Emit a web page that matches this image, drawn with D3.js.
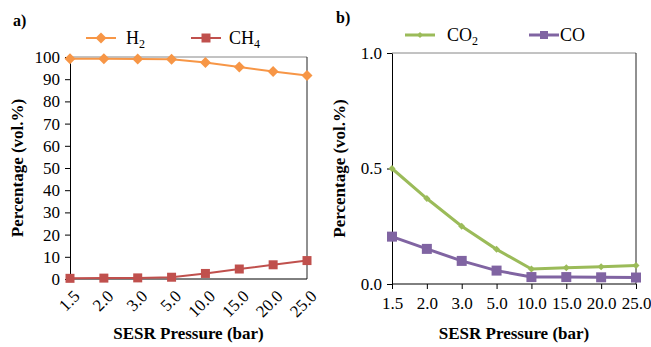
<!DOCTYPE html>
<html><head><meta charset="utf-8">
<script src="https://cdn.jsdelivr.net/npm/d3@7"></script>
<style>body{margin:0;background:#fff}</style>
</head><body><svg id="c" width="651" height="347" style="font-family:'Liberation Serif','Times New Roman',serif"></svg>
<script>
const categories = ["1.5","2.0","3.0","5.0","10.0","15.0","20.0","25.0"];
const h2 = [99.2, 99.2, 99.1, 99.0, 97.5, 95.5, 93.5, 91.7];
const ch4 = [0.3, 0.4, 0.5, 0.8, 2.5, 4.5, 6.4, 8.3];
const co2 = [0.50, 0.37, 0.25, 0.15, 0.065, 0.07, 0.075, 0.08];
const co = [0.205, 0.152, 0.10, 0.058, 0.03, 0.03, 0.029, 0.028];
const yTicksA = [0,10,20,30,40,50,60,70,80,90,100];
const yTicksB = [0, 0.5, 1.0];

const FONT = "'Liberation Serif','Times New Roman',serif";
const svg = d3.select("#c");
const col = {h2:"#F79646", ch4:"#C0504D", co2:"#9BBB59", co:"#8064A2"};

function marker(kind, s){
  // diamond = rotated square
  if(kind==="diamond") return `M0,${-s}L${s},0L0,${s}L${-s},0Z`;
  return `M${-s},${-s}H${s}V${s}H${-s}Z`;
}

function panel(o){
  const g = svg.append("g");
  const x = d3.scalePoint().domain(categories).range([o.x0,o.x1]);
  const y = d3.scaleLinear().domain(o.dom).range([o.y1,o.y0]);
  g.append("line").attr("x1",o.x0).attr("x2",o.x1).attr("y1",o.y0).attr("y2",o.y0).attr("stroke","#868686").attr("stroke-width",1);
  g.append("line").attr("x1",o.x1).attr("x2",o.x1).attr("y1",o.y0).attr("y2",o.y1).attr("stroke","#222").attr("stroke-width",1);
  const ya = g.append("g").attr("transform",`translate(${o.x0},0)`)
    .call(d3.axisLeft(y).tickValues(o.ticks).tickSize(5).tickSizeOuter(0).tickFormat(o.fmt));
  ya.attr("font-family",FONT);
  ya.select(".domain").attr("stroke","#000");
  ya.selectAll("text").style("font-family",FONT).style("font-size","17px").attr("fill","#000").attr("dx","-2");
  const xa = g.append("g").attr("transform",`translate(0,${o.y1})`)
    .call(d3.axisBottom(x).tickSize(o.xtick).tickSizeOuter(0));
  xa.attr("font-family",FONT);
  xa.select(".domain").attr("stroke","#000").attr("d",`M${o.x0},0H${o.x1}`);
  xa.selectAll("text").style("font-family",FONT).style("font-size","17px").attr("fill","#000");
  if(o.rot){
    xa.selectAll("text").attr("text-anchor","end").attr("dy","0.35em")
      .attr("transform","translate(6,14) rotate(-45)").attr("x",0).attr("y",0);
  } else {
    xa.selectAll("text").attr("y",13);
  }
  o.series.forEach(s=>{
    const line = d3.line().x((d,i)=>x(categories[i])).y(d=>y(d));
    g.append("path").datum(s.v).attr("fill","none").attr("stroke",s.c).attr("stroke-width",o.lw).attr("d",line);
    g.selectAll(null).data(s.v).enter().append("path").attr("d",marker(s.sym,s.size))
      .attr("transform",(d,i)=>`translate(${x(categories[i])},${y(d)})`)
      .attr("fill",s.c);
  });
  o.legend.forEach(l=>{
    g.append("line").attr("x1",l.x).attr("x2",l.x+l.w).attr("y1",l.y).attr("y2",l.y).attr("stroke",l.c).attr("stroke-width",o.lw);
    g.append("path").attr("d",marker(l.sym,l.size)).attr("transform",`translate(${l.x+l.w/2},${l.y})`).attr("fill",l.c);
    const t = g.append("text").attr("x",l.tx).attr("y",l.y+6).style("font-family",FONT).style("font-size","18px").attr("fill","#000");
    t.append("tspan").text(l.t);
    if(l.sub) t.append("tspan").text(l.sub).attr("dy",4).style("font-size","12px");
  });
  g.append("text").attr("x",o.lx).attr("y",o.ly).text(o.label).style("font-family",FONT).style("font-size","16px").style("font-weight","bold");
  g.append("text").attr("transform",`translate(${o.tyx},${(o.y0+o.y1)/2}) rotate(-90)`).attr("text-anchor","middle")
    .text("Percentage (vol.%)").style("font-family",FONT).style("font-size","17px").style("font-weight","bold");
  g.append("text").attr("x",(o.x0+o.x1)/2).attr("y",339).attr("text-anchor","middle")
    .text("SESR Pressure (bar)").style("font-family",FONT).style("font-size","17px").style("font-weight","bold");
}

panel({x0:70,x1:307,y0:57,y1:279,dom:[0,100],ticks:yTicksA,fmt:d3.format("d"),xtick:0,rot:true,lw:2,
  lx:13,ly:26,label:"a)",tyx:23,
  series:[{v:h2,c:col.h2,sym:"diamond",size:5.5},{v:ch4,c:col.ch4,sym:"square",size:4.5}],
  legend:[{x:86,w:30,y:38,c:col.h2,sym:"diamond",size:5.5,tx:126,t:"H",sub:"2"},
          {x:191,w:30,y:38,c:col.ch4,sym:"square",size:4.5,tx:229,t:"CH",sub:"4"}]});

panel({x0:392,x1:636,y0:53,y1:284,dom:[0,1],ticks:yTicksB,fmt:d3.format(".1f"),xtick:5,rot:false,lw:3,
  lx:336,ly:23,label:"b)",tyx:345,
  series:[{v:co2,c:col.co2,sym:"diamond",size:3.5},{v:co,c:col.co,sym:"square",size:5}],
  legend:[{x:405,w:30,y:35,c:col.co2,sym:"diamond",size:3,tx:447,t:"CO",sub:"2"},
          {x:529,w:30,y:35,c:col.co,sym:"square",size:4,tx:560,t:"CO"}]});
</script></body></html>
